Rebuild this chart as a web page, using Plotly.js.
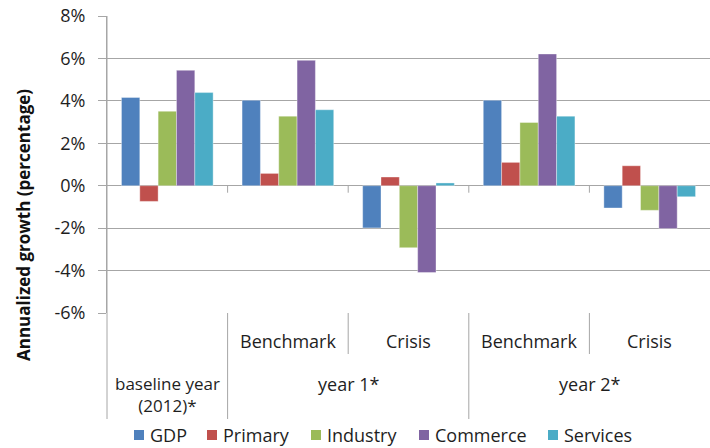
<!DOCTYPE html>
<html>
<head>
<meta charset="utf-8">
<script src="https://cdn.plot.ly/plotly-3.0.1.min.js"></script>
<style>html,body{margin:0;padding:0;background:#fff;}#chart{width:710px;height:448px;}</style>
</head>
<body>
<div id="chart"></div>
<script>
const categories = ["baseline", "y1bench", "y1crisis", "y2bench", "y2crisis"];
const subLabels = ["", "Benchmark", "Crisis", "Benchmark", "Crisis"];
const groupLabels = ["baseline year<br>(2012)*", "year 1*", "year 2*"];
const seriesNames = ["GDP", "Primary", "Industry", "Commerce", "Services"];
const gdp      = [4.16, 4.03, -1.99, 4.03, -1.05];
const primary  = [-0.74, 0.58, 0.41, 1.10, 0.94];
const industry = [3.51, 3.28, -2.92, 2.98, -1.16];
const commerce = [5.44, 5.91, -4.09, 6.21, -2.02];
const services = [4.39, 3.58, 0.13, 3.28, -0.52];
const yTicks = [-6, -4, -2, 0, 2, 4, 6, 8];

const colors = ["#4F81BD", "#C0504D", "#9BBB59", "#8064A2", "#4BACC6"];
const allSeries = [gdp, primary, industry, commerce, services];
const font = "'Open Sans', Lato, sans-serif";
const textCol = "#1e1e1e";

const traces = allSeries.map((vals, i) => ({
  type: "bar",
  name: seriesNames[i],
  x: categories,
  y: vals,
  marker: {color: colors[i], line: {color: "rgba(255,255,255,0.6)", width: 0.6}},
  hoverinfo: "y",
  showlegend: false
}));

const L = 107, W = 603, T = 16, H = 297;
const pyToPaper = py => (T + H - py) / H;
const pxToPaper = px => (px - L) / W;
const lblFont = {family: font, size: 18, color: textCol};

const annotations = [];
subLabels.forEach((t, i) => {
  if (t) annotations.push({xref: "x", yref: "paper", x: i, y: pyToPaper(341), text: t, showarrow: false,
    font: lblFont, xanchor: "center", yanchor: "middle"});
});
annotations.push({xref: "x", yref: "paper", x: 0, y: pyToPaper(394), text: groupLabels[0], showarrow: false,
  font: {family: font, size: 17, color: textCol}, xanchor: "center", yanchor: "middle"});
annotations.push({xref: "x", yref: "paper", x: 1.5, y: pyToPaper(384), text: groupLabels[1], showarrow: false,
  font: lblFont, xanchor: "center", yanchor: "middle"});
annotations.push({xref: "x", yref: "paper", x: 3.5, y: pyToPaper(384), text: groupLabels[2], showarrow: false,
  font: lblFont, xanchor: "center", yanchor: "middle"});
annotations.push({xref: "paper", yref: "paper", x: pxToPaper(23), y: pyToPaper(225), text: "<b>Annualized growth (percentage)</b>",
  textangle: -90, showarrow: false, font: {family: font, size: 17, color: "#111"},
  xanchor: "center", yanchor: "middle"});

const lineCol = "#a6a6a6";
const shapes = [];
shapes.push({type: "line", xref: "paper", yref: "paper", x0: 0, x1: 0, y0: 1, y1: pyToPaper(419), line: {color: lineCol, width: 1}});
[0.5, 2.5].forEach(x => shapes.push({type: "line", xref: "x", yref: "paper", x0: x, x1: x, y0: 0, y1: pyToPaper(419), line: {color: lineCol, width: 1}}));
[1.5, 3.5].forEach(x => shapes.push({type: "line", xref: "x", yref: "paper", x0: x, x1: x, y0: 0, y1: pyToPaper(354), line: {color: lineCol, width: 1}}));
[0.5, 1.5, 2.5, 3.5].forEach(x => shapes.push({type: "line", xref: "x", yref: "y", x0: x, x1: x, y0: 0, y1: -0.33, line: {color: lineCol, width: 1}}));

// legend (manual, Excel-like spacing)
const legendX = [134, 207, 311, 419, 548];
const legendY = 435;
seriesNames.forEach((n, i) => {
  shapes.push({type: "rect", xref: "paper", yref: "paper",
    x0: pxToPaper(legendX[i]), x1: pxToPaper(legendX[i] + 10),
    y0: pyToPaper(legendY + 5), y1: pyToPaper(legendY - 5),
    fillcolor: colors[i], line: {width: 0}});
  annotations.push({xref: "paper", yref: "paper", x: pxToPaper(legendX[i] + 14), y: pyToPaper(legendY),
    text: n, showarrow: false, font: lblFont, xanchor: "left", yanchor: "middle"});
});

const layout = {
  width: 710, height: 448,
  margin: {l: L, r: 710 - L - W, t: T, b: 448 - T - H, pad: 0},
  paper_bgcolor: "#fff", plot_bgcolor: "#fff",
  barmode: "group", bargap: 0.24, bargroupgap: 0,
  showlegend: false,
  xaxis: {type: "category", showticklabels: false, showgrid: false, zeroline: false, showline: false,
    ticks: "", range: [-0.5, 4.5], fixedrange: true},
  yaxis: {range: [-6, 8], tickvals: yTicks, ticktext: yTicks.map(v => v + "%"),
    showgrid: true, gridcolor: lineCol, gridwidth: 1, zeroline: true, zerolinecolor: lineCol, zerolinewidth: 1,
    showline: true, linecolor: lineCol, linewidth: 1, ticks: "outside", ticklen: 8, tickcolor: lineCol,
    ticklabelstandoff: 9,
    tickfont: {family: font, size: 18, color: textCol}, fixedrange: true},
  annotations: annotations,
  shapes: shapes
};

Plotly.newPlot("chart", traces, layout, {displayModeBar: false, staticPlot: true});
</script>
</body>
</html>
